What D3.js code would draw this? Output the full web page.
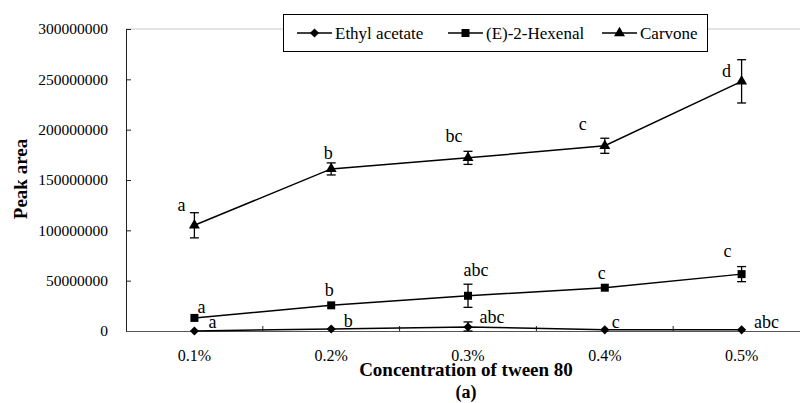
<!DOCTYPE html>
<html>
<head>
<meta charset="utf-8">
<script src="https://cdn.jsdelivr.net/npm/d3@7"></script>
<style>
  body { margin: 0; background: #fff; }
  svg text { font-family: "Liberation Serif", "Times New Roman", serif; }
</style>
</head>
<body>
<svg id="chart" width="800" height="403"></svg>
<script>
// data
var concentrations = ["0.1%", "0.2%", "0.3%", "0.4%", "0.5%"];
var seriesNames = ["Ethyl acetate", "(E)-2-Hexenal", "Carvone"];
var ethylAcetate = [0, 2000000, 4000000, 1200000, 1200000];
var ethylAcetateErr = [0, 0, 5000000, 0, 0];
var hexenal = [13000000, 25500000, 35000000, 43000000, 56500000];
var hexenalErr = [0, 0, 11500000, 0, 7500000];
var carvone = [105000000, 161000000, 172000000, 184000000, 248000000];
var carvoneErr = [12500000, 6000000, 6500000, 7500000, 21500000];
var ethylLetters = ["a", "b", "abc", "c", "abc"];
var hexenalLetters = ["a", "b", "abc", "c", "c"];
var carvoneLetters = ["a", "b", "bc", "c", "d"];
var yTicks = [0, 50000000, 100000000, 150000000, 200000000, 250000000, 300000000];

var svg = d3.select("#chart");
var plotLeft = 126, plotRight = 810, plotTop = 29, plotBottom = 331;
var serif = "Liberation Serif";

var x = d3.scaleBand()
          .domain(concentrations)
          .range([plotLeft, plotRight]);

var y = d3.scaleLinear()
          .domain([0, 300000000])
          .range([plotBottom, plotTop]);

// top border of plot area
svg.append("line")
   .attr("x1", plotLeft).attr("x2", 800)
   .attr("y1", plotTop).attr("y2", plotTop)
   .attr("stroke", "#c8c8c8");

// y axis
var yAxis = svg.append("g")
   .attr("transform", "translate(" + plotLeft + ",0)")
   .call(d3.axisLeft(y).tickValues(yTicks).tickFormat(d3.format("d"))
           .tickSizeInner(-5).tickSizeOuter(0).tickPadding(18));
yAxis.attr("font-family", serif);
yAxis.selectAll("text").attr("font-size", 15.5).attr("fill", "#000");
yAxis.selectAll("line, path").attr("stroke", "#222");

// x axis
var xAxis = svg.append("g")
   .attr("transform", "translate(0," + plotBottom + ")")
   .call(d3.axisBottom(x).tickSize(0).tickPadding(19));
xAxis.attr("font-family", serif);
xAxis.selectAll("text").attr("font-size", 16).attr("fill", "#000");
xAxis.select("path").attr("stroke", "#555");
// inner ticks between categories
xAxis.selectAll(".sep")
   .data(concentrations.slice(1))
   .enter().append("line")
   .attr("x1", d => x(d)).attr("x2", d => x(d))
   .attr("y1", 0).attr("y2", -5)
   .attr("stroke", "#222");

// axis titles
svg.append("text")
   .attr("x", 466).attr("y", 376)
   .attr("text-anchor", "middle")
   .attr("font-family", serif)
   .attr("font-size", 19).attr("font-weight", "bold")
   .text("Concentration of tween 80");
svg.append("text")
   .attr("x", 466).attr("y", 398)
   .attr("text-anchor", "middle")
   .attr("font-family", serif)
   .attr("font-size", 18).attr("font-weight", "bold")
   .text("(a)");
svg.append("text")
   .attr("transform", "translate(27,179) rotate(-90)")
   .attr("text-anchor", "middle")
   .attr("font-family", serif)
   .attr("font-size", 19).attr("font-weight", "bold")
   .text("Peak area");

var cx = d => x(d) + x.bandwidth() / 2;

var shapes = [d3.symbolSquare, d3.symbolSquare, d3.symbolTriangle];
var sizes = [42, 64, 52];
var rotations = [45, 0, 0];
var series = [
  { values: ethylAcetate, err: ethylAcetateErr, letters: ethylLetters },
  { values: hexenal, err: hexenalErr, letters: hexenalLetters },
  { values: carvone, err: carvoneErr, letters: carvoneLetters }
];
// letter placement relative to the top of each point's error bar (layout, not data)
var letterDx = [[18, 17, 24, 11, 25], [7, -2, 8, -3, -14], [-13, -3, -14, -22, -15]];
var letterDy = [[-3, -2, 1, -2, -2], [-5, -9, -8, -9, -10], [-2, -4, -9, -8, 17]];

var line = d3.line()
             .x((d, i) => cx(concentrations[i]))
             .y(d => y(d));

series.forEach(function(s, k) {
  var g = svg.append("g");

  g.append("path")
   .attr("d", line(s.values))
   .attr("fill", "none")
   .attr("stroke", "#000")
   .attr("stroke-width", 1.5);

  // error bars
  s.values.forEach(function(v, i) {
    if (!s.err[i]) return;
    var px = cx(concentrations[i]);
    var y1 = y(v + s.err[i]), y2 = y(Math.max(0, v - s.err[i]));
    g.append("line").attr("x1", px).attr("x2", px).attr("y1", y1).attr("y2", y2)
     .attr("stroke", "#000").attr("stroke-width", 1.3);
    [y1, y2].forEach(function(yy) {
      g.append("line").attr("x1", px - 4.5).attr("x2", px + 4.5).attr("y1", yy).attr("y2", yy)
       .attr("stroke", "#000").attr("stroke-width", 1.3);
    });
  });

  g.selectAll(".marker")
   .data(s.values)
   .enter().append("path")
   .attr("d", d3.symbol().type(shapes[k]).size(sizes[k]))
   .attr("transform", (d, i) => "translate(" + cx(concentrations[i]) + "," + y(d) + ") rotate(" + rotations[k] + ")")
   .attr("fill", "#000");

  g.selectAll(".letter")
   .data(s.letters)
   .enter().append("text")
   .attr("x", (d, i) => cx(concentrations[i]) + letterDx[k][i])
   .attr("y", (d, i) => y(s.values[i] + s.err[i]) + letterDy[k][i])
   .attr("text-anchor", "middle")
   .attr("font-family", serif)
   .attr("font-size", 18)
   .text(d => d);
});

// legend
var legend = svg.append("g");
legend.append("rect")
   .attr("x", 283.5).attr("y", 14.5).attr("width", 424).attr("height", 37)
   .attr("fill", "#fff").attr("stroke", "#000");
var legendX = [297, 448, 602];
seriesNames.forEach(function(name, k) {
  var lx = legendX[k];
  legend.append("line").attr("x1", lx).attr("x2", lx + 35).attr("y1", 33).attr("y2", 33)
        .attr("stroke", "#000").attr("stroke-width", 1.5);
  legend.append("path")
        .attr("d", d3.symbol().type(shapes[k]).size(sizes[k]))
        .attr("transform", "translate(" + (lx + 17.5) + ",33) rotate(" + rotations[k] + ")");
  legend.append("text").attr("x", lx + 38).attr("y", 39)
        .attr("font-family", serif)
        .attr("font-size", 17).text(name);
});
</script>
</body>
</html>
